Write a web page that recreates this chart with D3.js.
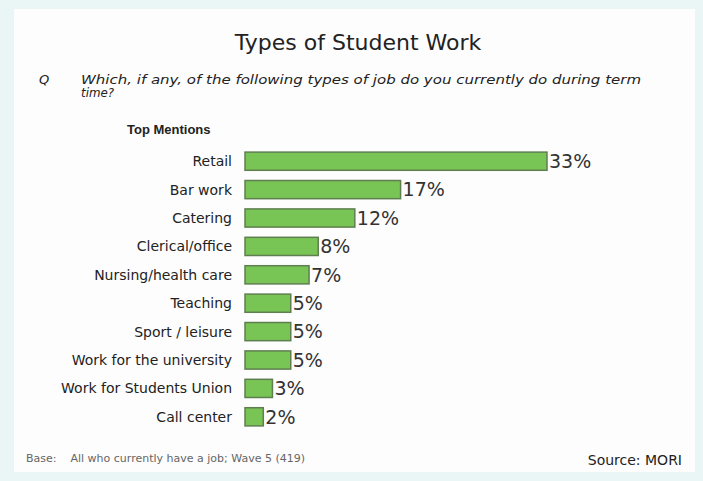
<!DOCTYPE html>
<html>
<head>
<meta charset="utf-8">
<script src="https://cdn.jsdelivr.net/npm/d3@7"></script>
<style>
  html, body { margin: 0; padding: 0; background: #eaf5f5; }
  svg { display: block; }
  text { font-family: "DejaVu Sans", "Liberation Sans", Arial, sans-serif; }
</style>
</head>
<body>
<svg id="chart" width="703" height="481"></svg>
<script>
// Survey results: share of working students doing each type of job
const categories = [
  "Retail", "Bar work", "Catering", "Clerical/office", "Nursing/health care",
  "Teaching", "Sport / leisure", "Work for the university",
  "Work for Students Union", "Call center"
];
const values = [33, 17, 12, 8, 7, 5, 5, 5, 3, 2];
const valueLabels = ["33%", "17%", "12%", "8%", "7%", "5%", "5%", "5%", "3%", "2%"];

const svg = d3.select("#chart");

// white card
svg.append("rect")
  .attr("x", 14).attr("y", 9)
  .attr("width", 681).attr("height", 463)
  .attr("fill", "#fdfdfd");

svg.append("text")
  .attr("x", 358).attr("y", 50)
  .attr("text-anchor", "middle")
  .attr("font-size", 22)
  .attr("fill", "#222")
  .text("Types of Student Work");

svg.append("text")
  .attr("x", 39).attr("y", 84)
  .attr("font-size", 13).attr("font-style", "italic")
  .attr("fill", "#222")
  .text("Q");

const q = svg.append("text")
  .attr("font-size", 12).attr("font-style", "italic")
  .attr("fill", "#222");
q.append("tspan").attr("x", 81).attr("y", 84)
  .attr("textLength", 560).attr("lengthAdjust", "spacingAndGlyphs")
  .text("Which, if any, of the following types of job do you currently do during term");
q.append("tspan").attr("x", 81).attr("y", 97)
  .attr("textLength", 33).attr("lengthAdjust", "spacingAndGlyphs")
  .text("time?");

svg.append("text")
  .attr("x", 127).attr("y", 134)
  .style("font-family", "'Liberation Sans', Arial, sans-serif")
  .attr("font-size", 13).attr("font-weight", "bold")
  .attr("fill", "#222")
  .text("Top Mentions");

const x = d3.scaleLinear().domain([0, 33]).range([245, 547]);
const y = d3.scaleBand().domain(categories).range([147, 431]).paddingInner(0.36).paddingOuter(0.18);

const rows = svg.append("g").selectAll("g")
  .data(categories.map((c, i) => ({ c, v: values[i], label: valueLabels[i] })))
  .join("g");

rows.append("rect")
  .attr("x", x(0))
  .attr("y", d => y(d.c))
  .attr("width", d => x(d.v) - x(0))
  .attr("height", y.bandwidth())
  .attr("fill", "#78c455")
  .attr("stroke", "#5f7f50")
  .attr("stroke-width", 1.5);

rows.append("text")
  .attr("x", 232)
  .attr("y", d => y(d.c) + y.bandwidth() / 2)
  .attr("dy", "0.36em")
  .attr("text-anchor", "end")
  .attr("font-size", 14)
  .attr("fill", "#222")
  .text(d => d.c);

rows.append("text")
  .attr("x", d => x(d.v) + 2)
  .attr("y", d => y(d.c) + y.bandwidth() / 2)
  .attr("dy", "0.36em")
  .attr("font-size", 19)
  .attr("fill", "#333")
  .text(d => d.label);

svg.append("text")
  .attr("x", 26).attr("y", 462)
  .attr("font-size", 11)
  .attr("fill", "#666")
  .attr("xml:space", "preserve")
  .text("Base:    All who currently have a job; Wave 5 (419)");

svg.append("text")
  .attr("x", 682).attr("y", 465)
  .attr("text-anchor", "end")
  .attr("font-size", 14)
  .attr("fill", "#222")
  .text("Source: MORI");
</script>
</body>
</html>
